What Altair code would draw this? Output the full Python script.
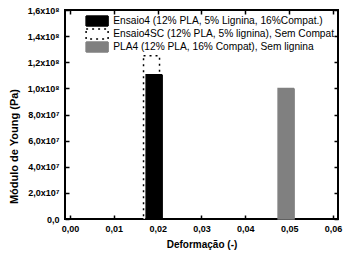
import altair as alt
import pandas as pd

# data
series = [
    "Ensaio4SC (12% PLA, 5% lignina), Sem Compat.",
    "Ensaio4 (12% PLA, 5% Lignina, 16%Compat.)",
    "PLA4 (12% PLA, 16% Compat), Sem lignina",
]
deformacao = [0.0186, 0.0192, 0.0493]
modulo = [1.25e8, 1.105e8, 1.0e8]

legend_order = [series[1], series[0], series[2]]
fills = ["#000000", "#ffffff", "#808080"]
strokes = ["#000000", "#000000", "#808080"]
dashes = [[1, 0], [2, 4], [1, 0]]

x_ticks = [0.0, 0.01, 0.02, 0.03, 0.04, 0.05, 0.06]
x_labels = ["0,00", "0,01", "0,02", "0,03", "0,04", "0,05", "0,06"]
y_ticks = [0, 2e7, 4e7, 6e7, 8e7, 1e8, 1.2e8, 1.4e8, 1.6e8]
y_labels = ["0,0", "2,0x10⁷", "4,0x10⁷", "6,0x10⁷", "8,0x10⁷",
            "1,0x10⁸", "1,2x10⁸", "1,4x10⁸", "1,6x10⁸"]

df = pd.DataFrame({"serie": series, "x": deformacao, "y": modulo})


def label_expr(vals, labs):
    v = "[" + ",".join(repr(float(a)) for a in vals) + "]"
    l = "[" + ",".join("'" + s + "'" for s in labs) + "]"
    return f"{l}[indexof({v}, datum.value)]"


FONT = "Liberation Sans"

x_scale = alt.Scale(domain=[0, 0.06], nice=False, zero=False)
y_scale = alt.Scale(domain=[0, 1.6e8], nice=False)


def make_legend():
    return alt.Legend(title=None, orient="none", legendX=19.5, legendY=4.5,
                      padding=0, rowPadding=0, clipHeight=13,
                      symbolType="M-4.4,-2L4.4,-2L4.4,2L-4.4,2Z",
                      symbolSize=25, symbolStrokeWidth=1.5, symbolOffset=7.5,
                      labelOffset=11, labelFont=FONT, labelFontSize=10.2,
                      labelColor="black", labelLimit=400, symbolOpacity=1)


bars = alt.Chart(df).mark_bar(strokeWidth=1.5, size=16).encode(
    x=alt.X("x:Q", scale=x_scale, axis=alt.Axis(
        values=x_ticks, labelExpr=label_expr(x_ticks, x_labels),
        title="Deformação (-)", orient="bottom", offset=-4, tickSize=4,
        tickWidth=1.5, tickColor="black", domain=False, grid=False,
        labelPadding=5, labelFont=FONT, labelFontSize=9, labelFontWeight="bold",
        labelColor="black", titleFont=FONT, titleFontSize=10,
        titleFontWeight="bold", titleColor="black", titlePadding=6,
        labelFlush=False)),
    y=alt.Y("y:Q", scale=y_scale, axis=alt.Axis(
        values=y_ticks, labelExpr=label_expr(y_ticks, y_labels),
        title="Módulo de Young (Pa)", orient="left", offset=-4, tickSize=4,
        tickWidth=1.5, tickColor="black", domain=False, grid=False,
        labelPadding=6, labelFont=FONT, labelFontSize=9, labelFontWeight="bold",
        labelColor="black", titleFont=FONT, titleFontSize=11,
        titleFontWeight="bold", titleColor="black",
        titleX=-55, titleY=136, titleAngle=270, titleAlign="center",
        titleBaseline="middle", labelFlush=False)),
    fill=alt.Fill("serie:N", scale=alt.Scale(domain=legend_order, range=fills),
                  legend=make_legend()),
    stroke=alt.Stroke("serie:N", scale=alt.Scale(domain=legend_order, range=strokes),
                      legend=make_legend()),
    strokeDash=alt.StrokeDash("serie:N", scale=alt.Scale(domain=legend_order, range=dashes),
                              legend=make_legend()),
)

mirror = alt.Chart(df).mark_bar(opacity=0).encode(
    x=alt.X("x:Q", scale=x_scale, axis=alt.Axis(
        values=x_ticks, orient="top", offset=-4, tickSize=4, tickWidth=1.5,
        tickColor="black", domain=False, grid=False, labels=False, title=None)),
    y=alt.Y("y:Q", scale=y_scale, axis=alt.Axis(
        values=y_ticks, orient="right", offset=-4, tickSize=4, tickWidth=1.5,
        tickColor="black", domain=False, grid=False, labels=False, title=None)),
)

chart = alt.layer(bars, mirror).resolve_axis(
    x="independent", y="independent"
).properties(
    width=273, height=209,
    autosize=alt.AutoSizeParams(type="none"),
    padding={"left": 65, "top": 10, "right": 24, "bottom": 45},
    background="white",
).configure_view(stroke="black", strokeWidth=2)

chart.save("out.html", embed_options={"renderer": "svg", "actions": False})
